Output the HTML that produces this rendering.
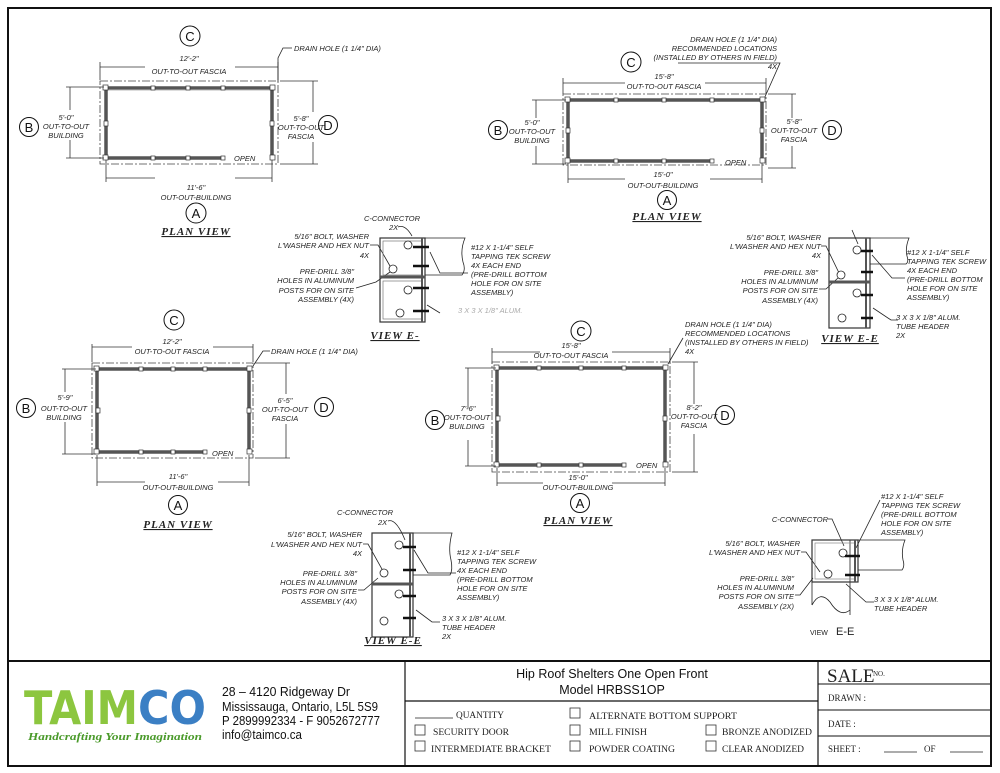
<!DOCTYPE html>
<html><head><meta charset="utf-8"><style>
html,body{margin:0;padding:0;background:#fff}
svg{display:block}
.t{font-family:"Liberation Sans",sans-serif;font-style:italic;font-size:7.5px;fill:#222}
.tc{text-anchor:middle}
.te{text-anchor:end}
.pv{font-family:"Liberation Serif",serif;font-style:italic;font-weight:bold;font-size:11px;fill:#222;text-anchor:middle;text-decoration:underline;letter-spacing:1px}
.cl{font-family:"Liberation Sans",sans-serif;font-size:13px;fill:#111;text-anchor:middle}
.dl{stroke:#333;stroke-width:0.8;fill:none}
.dd{stroke:#444;stroke-width:0.8;fill:none;stroke-dasharray:8 2 2 2}
.w{stroke:#555;stroke-width:3.5;fill:none}
.wi{stroke:#bbb;stroke-width:1;fill:none}
.ld{stroke:#222;stroke-width:0.8;fill:none}
.tb{font-family:"Liberation Serif",serif;font-size:9px;fill:#222}
.ts{font-family:"Liberation Sans",sans-serif;font-size:12.5px;fill:#111}
.cb{fill:#fff;stroke:#333;stroke-width:0.8}
</style></head><body>
<svg width="1000" height="773" viewBox="0 0 1000 773" xmlns="http://www.w3.org/2000/svg">
<rect x="0" y="0" width="1000" height="773" fill="#fff"/>
<rect x="8" y="8" width="983" height="758" fill="none" stroke="#111" stroke-width="2"/>

<!-- ========== PLAN 1 top-left ========== -->
<g>
<circle cx="190" cy="36" r="10" fill="none" stroke="#111"/><text class="cl" x="190" y="41">C</text>
<text class="t tc" x="189" y="61">12'-2"</text>
<text class="t tc" x="189" y="74">OUT-TO-OUT FASCIA</text>
<path class="dl" d="M100 62V80M278 62V80M100 67H145M235 67H278"/>
<path class="ld" d="M278 82V58L283 48H292"/><text class="t" x="294" y="51">DRAIN HOLE (1 1/4" DIA)</text>
<rect class="dd" x="100" y="81" width="178" height="83"/>
<path class="w" d="M106 88H272M106 88V158M272 88V158M106 158H225"/>
<path class="wi" d="M108 90H270"/>
<g fill="#fff" stroke="#333" stroke-width="0.7"><rect x="151" y="86" width="4" height="4"/><rect x="186" y="86" width="4" height="4"/><rect x="221" y="86" width="4" height="4"/><rect x="151" y="156" width="4" height="4"/><rect x="186" y="156" width="4" height="4"/><rect x="221" y="156" width="4" height="4"/><rect x="103" y="85" width="5" height="5"/><rect x="270" y="85" width="5" height="5"/><rect x="103" y="155" width="5" height="5"/><rect x="270" y="155" width="5" height="5"/><rect x="104" y="121" width="4" height="5"/><rect x="270" y="121" width="4" height="5"/></g>
<text class="t" x="234" y="161">OPEN</text>
<path class="dl" d="M66 87H104M66 158H104M70 87V110M70 140V158"/>
<circle cx="29" cy="127" r="9.5" fill="none" stroke="#111"/><text class="cl" x="29" y="132">B</text>
<text class="t tc" x="66" y="120">5'-0"</text><text class="t tc" x="66" y="129">OUT-TO-OUT</text><text class="t tc" x="66" y="138">BUILDING</text>
<path class="dl" d="M280 81H318M280 164H318M313 81V112M313 142V164"/>
<text class="t tc" x="301" y="121">5'-8"</text><text class="t tc" x="301" y="130">OUT-TO-OUT</text><text class="t tc" x="301" y="139">FASCIA</text>
<circle cx="328" cy="125" r="9.5" fill="none" stroke="#111"/><text class="cl" x="328" y="130">D</text>
<path class="dl" d="M106 160V182M272 160V182M106 178H155M235 178H272"/>
<text class="t tc" x="196" y="190">11'-6"</text><text class="t tc" x="196" y="200">OUT-OUT-BUILDING</text>
<circle cx="196" cy="213" r="10" fill="none" stroke="#111"/><text class="cl" x="196" y="218">A</text>
<text class="pv" x="196" y="235">PLAN VIEW</text>
</g>

<!-- ========== PLAN 2 top-right ========== -->
<g>
<text class="t te" x="777" y="42">DRAIN HOLE (1 1/4" DIA)</text>
<text class="t te" x="777" y="51">RECOMMENDED LOCATIONS</text>
<text class="t te" x="777" y="60">(INSTALLED BY OTHERS IN FIELD)</text>
<text class="t te" x="777" y="69">4X</text>
<path class="ld" d="M678 63H780L764 99"/>
<circle cx="631" cy="62" r="10" fill="none" stroke="#111"/><text class="cl" x="631" y="67">C</text>
<text class="t tc" x="664" y="79">15'-8"</text><text class="t tc" x="664" y="89">OUT-TO-OUT FASCIA</text>
<path class="dl" d="M563 78V94M766 78V94M563 83H625M705 83H766"/>
<rect class="dd" x="563" y="94" width="203" height="71"/>
<path class="w" d="M568 100H762M568 100V161M762 100V161M568 161H714"/>
<g fill="#fff" stroke="#333" stroke-width="0.7"><rect x="614" y="98" width="4" height="4"/><rect x="662" y="98" width="4" height="4"/><rect x="710" y="98" width="4" height="4"/><rect x="614" y="159" width="4" height="4"/><rect x="662" y="159" width="4" height="4"/><rect x="710" y="159" width="4" height="4"/><rect x="565" y="97" width="5" height="5"/><rect x="760" y="97" width="5" height="5"/><rect x="565" y="158" width="5" height="5"/><rect x="760" y="158" width="5" height="5"/><rect x="566" y="128" width="4" height="5"/><rect x="760" y="128" width="4" height="5"/></g>
<text class="t" x="725" y="165">OPEN</text>
<path class="dl" d="M532 100H566M532 164H566M536 100V118M536 146V164"/>
<circle cx="498" cy="130" r="9.5" fill="none" stroke="#111"/><text class="cl" x="498" y="135">B</text>
<text class="t tc" x="532" y="125">5'-0"</text><text class="t tc" x="532" y="134">OUT-TO-OUT</text><text class="t tc" x="532" y="143">BUILDING</text>
<path class="dl" d="M768 94H796M768 168H796M792 94V118M792 146V168"/>
<text class="t tc" x="794" y="124">5'-8"</text><text class="t tc" x="794" y="133">OUT-TO-OUT</text><text class="t tc" x="794" y="142">FASCIA</text>
<circle cx="832" cy="130" r="9.5" fill="none" stroke="#111"/><text class="cl" x="832" y="135">D</text>
<path class="dl" d="M568 163V183M762 163V183M568 179H625M710 179H762"/>
<text class="t tc" x="663" y="177">15'-0"</text><text class="t tc" x="663" y="188">OUT-OUT-BUILDING</text>
<circle cx="667" cy="200" r="9.5" fill="none" stroke="#111"/><text class="cl" x="667" y="205">A</text>
<text class="pv" x="667" y="220">PLAN VIEW</text>
</g>

<!-- ========== DETAIL 1 (VIEW E-) ========== -->
<g>
<text class="t tc" x="392" y="221">C-CONNECTOR</text><text class="t" x="389" y="230">2X</text>
<path class="ld" d="M398 227Q405 224 412 236"/>
<text class="t te" x="369" y="239">5/16" BOLT, WASHER</text>
<text class="t te" x="369" y="248">L'WASHER AND HEX NUT</text><text class="t te" x="369" y="258">4X</text>
<path class="ld" d="M370 245H378L390 266"/>
<text class="t te" x="354" y="274">PRE-DRILL 3/8"</text><text class="t te" x="354" y="283">HOLES IN ALUMINUM</text><text class="t te" x="354" y="293">POSTS FOR ON SITE</text><text class="t te" x="354" y="302">ASSEMBLY (4X)</text>
<path class="ld" d="M356 288L376 282L390 272"/>
<rect x="380" y="238" width="45" height="84" fill="none" stroke="#333" stroke-width="1.2"/>
<rect x="383" y="241" width="39" height="34" fill="none" stroke="#777" stroke-width="0.7"/>
<rect x="383" y="281" width="39" height="38" fill="none" stroke="#777" stroke-width="0.7"/>
<path d="M380 277H425" stroke="#555" stroke-width="3"/>
<path d="M422 238V322" stroke="#555" stroke-width="2"/>
<path class="ld" d="M425 238H465Q460 250 463 262Q466 270 462 275H425"/>
<g fill="#fff" stroke="#222" stroke-width="0.8"><circle cx="408" cy="245" r="4"/><circle cx="393" cy="269" r="4"/><circle cx="408" cy="290" r="4"/><circle cx="400" cy="313" r="4"/></g>
<g stroke="#111" stroke-width="2.5"><path d="M413 247H429M413 266H429M413 288H429M413 311H429"/></g>
<path class="ld" d="M430 252L440 273H468"/>
<text class="t" x="471" y="250">#12 X 1-1/4" SELF</text><text class="t" x="471" y="259">TAPPING TEK SCREW</text><text class="t" x="471" y="268">4X EACH END</text><text class="t" x="471" y="277">(PRE-DRILL BOTTOM</text><text class="t" x="471" y="286">HOLE FOR ON SITE</text><text class="t" x="471" y="295">ASSEMBLY)</text>
<path class="ld" d="M427 305L440 313"/>
<text class="t" x="458" y="313" style="fill:#aaa">3 X 3 X 1/8" ALUM.</text>
<text class="pv" x="395" y="339">VIEW E-</text>
</g>

<!-- ========== DETAIL 2 top-right E-E ========== -->
<g>
<text class="t te" x="821" y="240">5/16" BOLT, WASHER</text><text class="t te" x="821" y="249">L'WASHER AND HEX NUT</text><text class="t te" x="821" y="258">4X</text>
<path class="ld" d="M821 246H826L840 275"/>
<text class="t te" x="818" y="275">PRE-DRILL 3/8"</text><text class="t te" x="818" y="284">HOLES IN ALUMINUM</text><text class="t te" x="818" y="293">POSTS FOR ON SITE</text><text class="t te" x="818" y="303">ASSEMBLY (4X)</text>
<path class="ld" d="M819 289H826L838 278"/>
<rect x="829" y="238" width="41" height="90" fill="none" stroke="#333" stroke-width="1.2"/>
<path d="M829 282H870" stroke="#555" stroke-width="3"/>
<path d="M866 238V328" stroke="#555" stroke-width="2"/>
<path class="ld" d="M870 238H909Q905 248 907 256Q909 262 906 264H870"/>
<path class="ld" d="M852 230L858 244"/>
<g fill="#fff" stroke="#222" stroke-width="0.8"><circle cx="857" cy="250" r="4"/><circle cx="841" cy="275" r="4"/><circle cx="857" cy="293" r="4"/><circle cx="842" cy="318" r="4"/></g>
<g stroke="#111" stroke-width="2.5"><path d="M861 251H873M861 272H873M861 295H873M861 318H873"/></g>
<path class="ld" d="M872 255L892 278H905"/>
<text class="t" x="907" y="255">#12 X 1-1/4" SELF</text><text class="t" x="907" y="264">TAPPING TEK SCREW</text><text class="t" x="907" y="273">4X EACH END</text><text class="t" x="907" y="282">(PRE-DRILL BOTTOM</text><text class="t" x="907" y="291">HOLE FOR ON SITE</text><text class="t" x="907" y="300">ASSEMBLY)</text>
<path class="ld" d="M873 308L891 320H898"/>
<text class="t" x="896" y="320">3 X 3 X 1/8" ALUM.</text><text class="t" x="896" y="329">TUBE HEADER</text><text class="t" x="896" y="338">2X</text>
<text class="pv" x="850" y="342">VIEW E-E</text>
</g>

<!-- ========== PLAN 3 mid-left ========== -->
<g>
<circle cx="174" cy="320" r="10" fill="none" stroke="#111"/><text class="cl" x="174" y="325">C</text>
<text class="t tc" x="172" y="344">12'-2"</text><text class="t tc" x="172" y="354">OUT-TO-OUT FASCIA</text>
<path class="dl" d="M92 344V362M253 344V362M92 347H132M213 347H253"/>
<path class="ld" d="M253 366L263 351H270"/><text class="t" x="271" y="354">DRAIN HOLE (1 1/4" DIA)</text>
<rect class="dd" x="92" y="363" width="161" height="95"/>
<path class="w" d="M97 369H249M97 369V452M249 369V452M97 452H206"/>
<g fill="#fff" stroke="#333" stroke-width="0.7"><rect x="139" y="367" width="4" height="4"/><rect x="171" y="367" width="4" height="4"/><rect x="203" y="367" width="4" height="4"/><rect x="139" y="450" width="4" height="4"/><rect x="171" y="450" width="4" height="4"/><rect x="203" y="450" width="4" height="4"/><rect x="94" y="366" width="5" height="5"/><rect x="247" y="366" width="5" height="5"/><rect x="94" y="449" width="5" height="5"/><rect x="247" y="449" width="5" height="5"/><rect x="96" y="408" width="4" height="5"/><rect x="247" y="408" width="4" height="5"/></g>
<text class="t" x="212" y="456">OPEN</text>
<path class="dl" d="M62 369H96M62 454H96M65 369V392M65 422V454"/>
<circle cx="26" cy="408" r="9.5" fill="none" stroke="#111"/><text class="cl" x="26" y="413">B</text>
<text class="t tc" x="65" y="400">5'-9"</text><text class="t tc" x="64" y="411">OUT-TO-OUT</text><text class="t tc" x="64" y="420">BUILDING</text>
<path class="dl" d="M255 363H290M255 458H290M286 363V394M286 424V458"/>
<text class="t tc" x="285" y="403">6'-5"</text><text class="t tc" x="285" y="412">OUT-TO-OUT</text><text class="t tc" x="285" y="421">FASCIA</text>
<circle cx="324" cy="407" r="9.5" fill="none" stroke="#111"/><text class="cl" x="324" y="412">D</text>
<path class="dl" d="M97 455V486M249 455V486M97 482H145M218 482H249"/>
<text class="t tc" x="178" y="479">11'-6"</text><text class="t tc" x="178" y="490">OUT-OUT-BUILDING</text>
<circle cx="178" cy="505" r="9.5" fill="none" stroke="#111"/><text class="cl" x="178" y="510">A</text>
<text class="pv" x="178" y="528">PLAN VIEW</text>
</g>

<!-- ========== PLAN 4 center ========== -->
<g>
<circle cx="581" cy="331" r="10" fill="none" stroke="#111"/><text class="cl" x="581" y="336">C</text>
<text class="t tc" x="571" y="348">15'-8"</text><text class="t tc" x="571" y="358">OUT-TO-OUT FASCIA</text>
<path class="dl" d="M492 348V364M670 348V364M492 352H540M612 352H670"/>
<text class="t" x="685" y="327">DRAIN HOLE (1 1/4" DIA)</text><text class="t" x="685" y="336">RECOMMENDED LOCATIONS</text><text class="t" x="685" y="345">(INSTALLED BY OTHERS IN FIELD)</text><text class="t" x="685" y="354">4X</text>
<path class="ld" d="M683 338L668 364"/>
<rect class="dd" x="492" y="362" width="178" height="110"/>
<path class="w" d="M497 368H665M497 368V465M665 368V465M497 465H624"/>
<g fill="#fff" stroke="#333" stroke-width="0.7"><rect x="537" y="366" width="4" height="4"/><rect x="579" y="366" width="4" height="4"/><rect x="622" y="366" width="4" height="4"/><rect x="537" y="463" width="4" height="4"/><rect x="579" y="463" width="4" height="4"/><rect x="622" y="463" width="4" height="4"/><rect x="494" y="365" width="5" height="5"/><rect x="663" y="365" width="5" height="5"/><rect x="494" y="462" width="5" height="5"/><rect x="663" y="462" width="5" height="5"/><rect x="496" y="416" width="4" height="5"/><rect x="663" y="416" width="4" height="5"/></g>
<text class="t" x="636" y="468">OPEN</text>
<path class="dl" d="M465 368H496M465 466H496M468 368V408M468 440V466"/>
<circle cx="435" cy="420" r="9.5" fill="none" stroke="#111"/><text class="cl" x="435" y="425">B</text>
<text class="t tc" x="468" y="411">7'-6"</text><text class="t tc" x="467" y="420">OUT-TO-OUT</text><text class="t tc" x="467" y="429">BUILDING</text>
<path class="dl" d="M672 362H698M672 472H698M694 362V404M694 434V472"/>
<text class="t tc" x="694" y="410">8'-2"</text><text class="t tc" x="694" y="419">OUT-TO-OUT</text><text class="t tc" x="694" y="428">FASCIA</text>
<circle cx="725" cy="415" r="9.5" fill="none" stroke="#111"/><text class="cl" x="725" y="420">D</text>
<path class="dl" d="M497 468V486M665 468V486M497 483H543M612 483H665"/>
<text class="t tc" x="578" y="480">15'-0"</text><text class="t tc" x="578" y="490">OUT-OUT-BUILDING</text>
<circle cx="580" cy="503" r="9.5" fill="none" stroke="#111"/><text class="cl" x="580" y="508">A</text>
<text class="pv" x="578" y="524">PLAN VIEW</text>
</g>

<!-- ========== DETAIL 3 lower-left E-E ========== -->
<g>
<text class="t tc" x="365" y="515">C-CONNECTOR</text><text class="t" x="378" y="525">2X</text>
<path class="ld" d="M388 521Q396 518 405 540"/>
<text class="t te" x="362" y="537">5/16" BOLT, WASHER</text><text class="t te" x="362" y="547">L'WASHER AND HEX NUT</text><text class="t te" x="362" y="556">4X</text>
<path class="ld" d="M363 544H368L383 571"/>
<text class="t te" x="357" y="576">PRE-DRILL 3/8"</text><text class="t te" x="357" y="585">HOLES IN ALUMINUM</text><text class="t te" x="357" y="594">POSTS FOR ON SITE</text><text class="t te" x="357" y="604">ASSEMBLY (4X)</text>
<path class="ld" d="M358 590H364L378 578"/>
<rect x="372" y="533" width="41" height="104" fill="none" stroke="#333" stroke-width="1.2"/>
<path d="M372 584H413" stroke="#555" stroke-width="3"/>
<path d="M410 533V637" stroke="#555" stroke-width="2"/>
<path class="ld" d="M413 533H452Q448 548 451 560Q453 570 450 575H413"/>
<g fill="#fff" stroke="#222" stroke-width="0.8"><circle cx="399" cy="545" r="4"/><circle cx="384" cy="573" r="4"/><circle cx="399" cy="594" r="4"/><circle cx="384" cy="621" r="4"/></g>
<g stroke="#111" stroke-width="2.5"><path d="M403 547H416M403 570H416M403 596H416M403 618H416"/></g>
<path class="ld" d="M414 550L428 573H456"/>
<text class="t" x="457" y="555">#12 X 1-1/4" SELF</text><text class="t" x="457" y="564">TAPPING TEK SCREW</text><text class="t" x="457" y="573">4X EACH END</text><text class="t" x="457" y="582">(PRE-DRILL BOTTOM</text><text class="t" x="457" y="591">HOLE FOR ON SITE</text><text class="t" x="457" y="600">ASSEMBLY)</text>
<path class="ld" d="M416 610L432 622H440"/>
<text class="t" x="442" y="621">3 X 3 X 1/8" ALUM.</text><text class="t" x="442" y="630">TUBE HEADER</text><text class="t" x="442" y="639">2X</text>
<text class="pv" x="393" y="644">VIEW E-E</text>
</g>

<!-- ========== DETAIL 4 lower-right E-E ========== -->
<g>
<text class="t te" x="828" y="522">C-CONNECTOR</text>
<path class="ld" d="M828 519H832L844 546"/>
<text class="t" x="881" y="499">#12 X 1-1/4" SELF</text><text class="t" x="881" y="508">TAPPING TEK SCREW</text><text class="t" x="881" y="517">(PRE-DRILL BOTTOM</text><text class="t" x="881" y="526">HOLE FOR ON SITE</text><text class="t" x="881" y="535">ASSEMBLY)</text>
<path class="ld" d="M880 500L856 548"/>
<text class="t te" x="800" y="546">5/16" BOLT, WASHER</text><text class="t te" x="800" y="555">L'WASHER AND HEX NUT</text>
<path class="ld" d="M801 552H806L820 572"/>
<text class="t te" x="794" y="581">PRE-DRILL 3/8"</text><text class="t te" x="794" y="590">HOLES IN ALUMINUM</text><text class="t te" x="794" y="599">POSTS FOR ON SITE</text><text class="t te" x="794" y="609">ASSEMBLY (2X)</text>
<path class="ld" d="M795 595H800L813 578"/>
<path class="ld" d="M812 540V605M850 540V615"/>
<path class="ld" d="M812 605Q820 590 830 602Q840 618 850 610"/>
<rect x="812" y="540" width="46" height="42" fill="none" stroke="#333" stroke-width="1.2"/>
<rect x="815" y="543" width="40" height="36" fill="none" stroke="#888" stroke-width="0.7"/>
<path d="M855 540V582" stroke="#555" stroke-width="2"/>
<path class="ld" d="M858 540H905Q901 550 903 560Q905 566 902 570H858"/>
<g fill="#fff" stroke="#222" stroke-width="0.8"><circle cx="843" cy="553" r="4"/><circle cx="828" cy="574" r="4"/></g>
<g stroke="#111" stroke-width="2.5"><path d="M845 556H860M845 575H860"/></g>
<path class="ld" d="M846 584L866 602H874"/>
<text class="t" x="874" y="602">3 X 3 X 1/8" ALUM.</text><text class="t" x="874" y="611">TUBE HEADER</text>
<text x="810" y="635" style="font-family:'Liberation Sans',sans-serif;font-size:7px;fill:#222">VIEW</text>
<text x="836" y="635" style="font-family:'Liberation Sans',sans-serif;font-size:11px;fill:#222">E-E</text>
</g>

<!-- ========== TITLE BLOCK ========== -->
<path d="M8 661H991" stroke="#111" stroke-width="2"/>
<path d="M405 661V766M818 661V766" stroke="#111" stroke-width="1.2"/>
<path d="M405 701H818" stroke="#111" stroke-width="1.2"/>
<path d="M818 684H991M818 710H991M818 736H991" stroke="#111" stroke-width="1"/>
<text x="612" y="678" class="ts" text-anchor="middle">Hip Roof Shelters One Open Front</text>
<text x="612" y="694" class="ts" text-anchor="middle">Model HRBSS1OP</text>
<text x="827" y="682" style="font-family:'Liberation Serif',serif;font-size:19px;fill:#222">SALE</text>
<text x="873" y="676" style="font-family:'Liberation Serif',serif;font-size:7px;fill:#222">NO.</text>
<text x="828" y="701" class="tb">DRAWN :</text>
<text x="828" y="727" class="tb">DATE :</text>
<text x="828" y="752" class="tb">SHEET :</text>
<path d="M884 752H917M950 752H983" stroke="#222" stroke-width="0.8"/>
<text x="924" y="752" class="tb">OF</text>
<path d="M415 718H453" stroke="#222" stroke-width="0.8"/>
<text x="456" y="718" class="tb" textLength="48" lengthAdjust="spacingAndGlyphs">QUANTITY</text>
<rect class="cb" x="570" y="708" width="10" height="10"/><text x="589" y="719" class="tb" textLength="148" lengthAdjust="spacingAndGlyphs">ALTERNATE BOTTOM SUPPORT</text>
<rect class="cb" x="415" y="725" width="10" height="10"/><text x="433" y="735" class="tb" textLength="76" lengthAdjust="spacingAndGlyphs">SECURITY DOOR</text>
<rect class="cb" x="570" y="725" width="10" height="10"/><text x="589" y="735" class="tb" textLength="58" lengthAdjust="spacingAndGlyphs">MILL FINISH</text>
<rect class="cb" x="706" y="725" width="10" height="10"/><text x="722" y="735" class="tb" textLength="90" lengthAdjust="spacingAndGlyphs">BRONZE ANODIZED</text>
<rect class="cb" x="415" y="741" width="10" height="10"/><text x="431" y="752" class="tb" textLength="120" lengthAdjust="spacingAndGlyphs">INTERMEDIATE BRACKET</text>
<rect class="cb" x="570" y="741" width="10" height="10"/><text x="589" y="752" class="tb" textLength="86" lengthAdjust="spacingAndGlyphs">POWDER COATING</text>
<rect class="cb" x="706" y="741" width="10" height="10"/><text x="722" y="752" class="tb" textLength="82" lengthAdjust="spacingAndGlyphs">CLEAR ANODIZED</text>

<!-- logo -->
<g>
<text x="24" y="724" style="font-family:'DejaVu Sans',sans-serif;font-weight:bold;font-size:46px;fill:#8cc63f" textLength="114" lengthAdjust="spacingAndGlyphs">TAIM</text>
<text x="138" y="724" style="font-family:'DejaVu Sans',sans-serif;font-weight:bold;font-size:46px;fill:#3b7fc4" textLength="68" lengthAdjust="spacingAndGlyphs">CO</text>
<text x="28" y="740" style="font-family:'Liberation Serif',serif;font-style:italic;font-weight:bold;font-size:11px;fill:#4a9a2a" textLength="174" lengthAdjust="spacingAndGlyphs">Handcrafting Your Imagination</text>
</g>
<g style="font-family:'Liberation Sans',sans-serif;font-size:12.5px;fill:#111">
<text x="222" y="696" textLength="128" lengthAdjust="spacingAndGlyphs">28 – 4120 Ridgeway Dr</text>
<text x="222" y="711" textLength="156" lengthAdjust="spacingAndGlyphs">Mississauga, Ontario, L5L 5S9</text>
<text x="222" y="725" textLength="158" lengthAdjust="spacingAndGlyphs">P 2899992334 - F 9052672777</text>
<text x="222" y="739" textLength="80" lengthAdjust="spacingAndGlyphs">info@taimco.ca</text>
</g>
</svg>
</body></html>
